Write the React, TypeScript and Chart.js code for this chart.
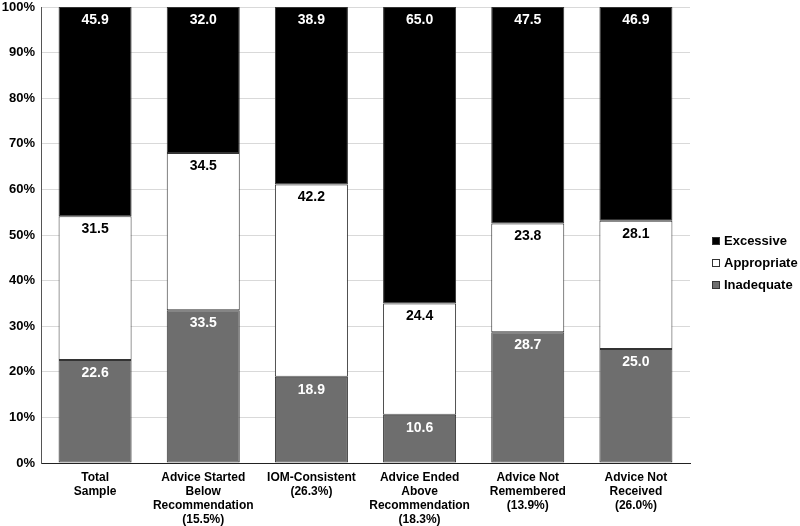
import React, { useEffect, useRef } from "react";
import { Chart, registerables } from "chart.js";

Chart.register(...registerables);

const categories: string[][] = [
  ["Total", "Sample"],
  ["Advice Started", "Below", "Recommendation", "(15.5%)"],
  ["IOM-Consistent", "(26.3%)"],
  ["Advice Ended", "Above", "Recommendation", "(18.3%)"],
  ["Advice Not", "Remembered", "(13.9%)"],
  ["Advice Not", "Received", "(26.0%)"],
];

const inadequate = [22.6, 33.5, 18.9, 10.6, 28.7, 25.0];
const appropriate = [31.5, 34.5, 42.2, 24.4, 23.8, 28.1];
const excessive = [45.9, 32.0, 38.9, 65.0, 47.5, 46.9];

const yTicks = [0, 10, 20, 30, 40, 50, 60, 70, 80, 90, 100];

const FONT = "'Liberation Sans', Arial, Helvetica, sans-serif";

const labelColors = ["#ffffff", "#000000", "#ffffff"];

const valueLabelPlugin = {
  id: "valueLabels",
  afterDatasetsDraw(chart: any) {
    const ctx = chart.ctx;
    ctx.save();
    ctx.font = `bold 14px ${FONT}`;
    ctx.textAlign = "center";
    ctx.textBaseline = "middle";
    chart.data.datasets.forEach((ds: any, di: number) => {
      const meta = chart.getDatasetMeta(di);
      meta.data.forEach((el: any, i: number) => {
        const v = ds.data[i];
        const top = Math.min(el.y, el.base);
        ctx.fillStyle = labelColors[di];
        ctx.fillText(Number(v).toFixed(1), el.x, top + 13);
      });
    });
    ctx.restore();
  },
};

// Legend drawn from the chart's datasets (reverse order), placed to the right of the plot.
const sideLegendPlugin = {
  id: "sideLegend",
  afterDraw(chart: any) {
    const ctx = chart.ctx;
    const area = chart.chartArea;
    const items = chart.data.datasets.map((ds: any) => ds).slice().reverse();
    const boxX = area.right + 22;
    const textX = boxX + 12;
    const spacing = 22;
    const midY = 263;
    const startY = midY - spacing * ((items.length - 1) / 2);
    ctx.save();
    ctx.font = `bold 13px ${FONT}`;
    ctx.textAlign = "left";
    ctx.textBaseline = "middle";
    items.forEach((ds: any, i: number) => {
      const y = startY + i * spacing;
      ctx.fillStyle = ds.backgroundColor;
      ctx.fillRect(boxX, y - 4, 8, 8);
      ctx.strokeStyle = "#333333";
      ctx.lineWidth = 1;
      ctx.strokeRect(boxX + 0.5, y - 3.5, 7, 7);
      ctx.fillStyle = "#000000";
      ctx.fillText(ds.label, textX, y);
    });
    ctx.restore();
  },
};

export default function App() {
  const ref = useRef<HTMLCanvasElement | null>(null);

  useEffect(() => {
    if (!ref.current) return;
    const chart = new Chart(ref.current, {
      type: "bar",
      data: {
        labels: categories,
        datasets: [
          {
            label: "Inadequate",
            data: inadequate,
            backgroundColor: "#6e6e6e",
            borderColor: "#333333",
            borderWidth: 1,
            borderSkipped: false,
          },
          {
            label: "Appropriate",
            data: appropriate,
            backgroundColor: "#ffffff",
            borderColor: "#333333",
            borderWidth: 1,
            borderSkipped: false,
          },
          {
            label: "Excessive",
            data: excessive,
            backgroundColor: "#000000",
            borderColor: "#333333",
            borderWidth: 1,
            borderSkipped: false,
          },
        ],
      },
      options: {
        animation: false,
        responsive: true,
        maintainAspectRatio: false,
        datasets: {
          bar: { barPercentage: 0.9, categoryPercentage: 0.75 },
        },
        layout: { padding: { top: 0, right: 110, bottom: 0, left: 0 } },
        plugins: {
          tooltip: { enabled: false },
          legend: { display: false },
        },
        scales: {
          x: {
            stacked: true,
            grid: { display: false, drawTicks: false },
            border: { display: true, color: "#222222", width: 1 },
            ticks: {
              color: "#000000",
              padding: 8,
              maxRotation: 0,
              autoSkip: false,
              font: { family: FONT, size: 12, weight: "bold", lineHeight: 1.17 },
            },
            afterFit(scale: any) {
              scale.height = 63;
            },
          },
          y: {
            stacked: true,
            min: 0,
            max: 100,
            afterBuildTicks(scale: any) {
              scale.ticks = yTicks.map((v) => ({ value: v }));
            },
            grid: { color: "#d9d9d9", drawTicks: false },
            border: { display: true, color: "#555555", width: 1 },
            ticks: {
              color: "#000000",
              padding: 6,
              font: { family: FONT, size: 13, weight: "bold" },
              callback: (v: any) => `${v}%`,
            },
            afterFit(scale: any) {
              scale.width = 41;
              scale.paddingTop = 7;
              scale.paddingBottom = 0;
            },
          },
        },
      },
      plugins: [valueLabelPlugin, sideLegendPlugin],
    });
    return () => chart.destroy();
  }, []);

  return (
    <div style={{ position: "fixed", left: 0, top: 0, width: 800, height: 526, background: "#fff" }}>
      <canvas ref={ref} />
    </div>
  );
}
